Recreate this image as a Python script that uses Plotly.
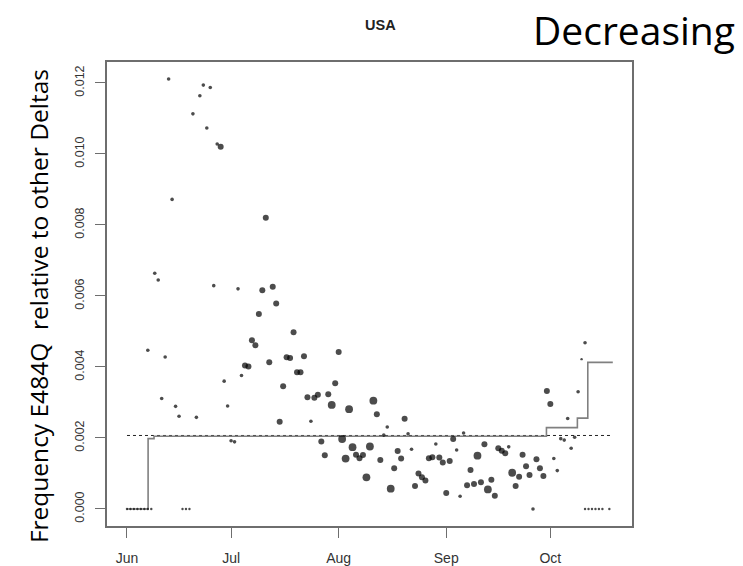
import plotly.graph_objects as go

# ---- data ----
dates = [
    "2021-06-01", "2021-06-02", "2021-06-03", "2021-06-04", "2021-06-05", "2021-06-06", "2021-06-07", "2021-06-08",
    "2021-06-17", "2021-06-18", "2021-06-19",
    "2021-06-07", "2021-06-09", "2021-06-10", "2021-06-11", "2021-06-13", "2021-06-14", "2021-06-12",
    "2021-06-15", "2021-06-16", "2021-06-20", "2021-06-21", "2021-06-22", "2021-06-23", "2021-06-24",
    "2021-06-25", "2021-06-26", "2021-06-27", "2021-06-28", "2021-06-29", "2021-06-30",
    "2021-07-01", "2021-07-02", "2021-07-03", "2021-07-04", "2021-07-05", "2021-07-06", "2021-07-07",
    "2021-07-08", "2021-07-09", "2021-07-10", "2021-07-11", "2021-07-12", "2021-07-13", "2021-07-14",
    "2021-07-15", "2021-07-16", "2021-07-17", "2021-07-18", "2021-07-19", "2021-07-20", "2021-07-21",
    "2021-07-22", "2021-07-23", "2021-07-24", "2021-07-25", "2021-07-26", "2021-07-27", "2021-07-28",
    "2021-07-29", "2021-07-30", "2021-07-31",
    "2021-08-01", "2021-08-02", "2021-08-03", "2021-08-04", "2021-08-05", "2021-08-06", "2021-08-07",
    "2021-08-08", "2021-08-09", "2021-08-10", "2021-08-11", "2021-08-12", "2021-08-13", "2021-08-14",
    "2021-08-15", "2021-08-16", "2021-08-17", "2021-08-18", "2021-08-19", "2021-08-20", "2021-08-21",
    "2021-08-22", "2021-08-23", "2021-08-24", "2021-08-25", "2021-08-26", "2021-08-27", "2021-08-28",
    "2021-08-29", "2021-08-30", "2021-08-31",
    "2021-09-01", "2021-09-02", "2021-09-03", "2021-09-04", "2021-09-05", "2021-09-06", "2021-09-07",
    "2021-09-08", "2021-09-09", "2021-09-10", "2021-09-11", "2021-09-12", "2021-09-13", "2021-09-14",
    "2021-09-15", "2021-09-16", "2021-09-17", "2021-09-18", "2021-09-19", "2021-09-20", "2021-09-21",
    "2021-09-22", "2021-09-23", "2021-09-24", "2021-09-25", "2021-09-26", "2021-09-27", "2021-09-28",
    "2021-09-29", "2021-09-30",
    "2021-10-01", "2021-10-02", "2021-10-03", "2021-10-04", "2021-10-05", "2021-10-06", "2021-10-07",
    "2021-10-08", "2021-10-09", "2021-10-11",
    "2021-10-10", "2021-10-11", "2021-10-12", "2021-10-13", "2021-10-14", "2021-10-15", "2021-10-16", "2021-10-18",
]
freq = [
    0, 0, 0, 0, 0, 0, 0, 0,
    0, 0, 0,
    0.00447, 0.00664, 0.00645, 0.00311, 0.01211, 0.00872, 0.00428,
    0.00289, 0.00261, 0.01113, 0.00258, 0.01164, 0.01194, 0.01073,
    0.01187, 0.00629, 0.01028, 0.01020, 0.00360, 0.00290,
    0.00192, 0.00189, 0.00620, 0.00376, 0.00404, 0.00401, 0.00475,
    0.00461, 0.00549, 0.00616, 0.00820, 0.00413, 0.00626, 0.00579,
    0.00246, 0.00346, 0.00427, 0.00425, 0.00498, 0.00385, 0.00385,
    0.00430, 0.00315, 0.00247, 0.00313, 0.00322, 0.00190, 0.00151,
    0.00323, 0.00293, 0.00354,
    0.00442, 0.00197, 0.00142, 0.00281, 0.00174, 0.00153, 0.00143,
    0.00152, 0.00089, 0.00176, 0.00305, 0.00267, 0.00138, 0.00208,
    0.00231, 0.00057, 0.00115, 0.00163, 0.00142, 0.00254, 0.00212,
    0.00168, 0.00065, 0.00100, 0.00089, 0.00080, 0.00143, 0.00146,
    0.00183, 0.00145, 0.00131,
    0.00045, 0.00135, 0.00197, 0.00166, 0.00036, 0.00214, 0.00067,
    0.00110, 0.00070, 0.00150, 0.00075, 0.00182, 0.00055, 0.00082,
    0.00037, 0.00171, 0.00164, 0.00157, 0.00175, 0.00102, 0.00065,
    0.00091, 0.00153, 0.00120, 0.00096, 0.0, 0.00140, 0.00115,
    0.00093, 0.00332,
    0.00296, 0.00142, 0.00108, 0.00198, 0.00194, 0.00255, 0.00171,
    0.00202, 0.00330, 0.00468,
    0.00422, 0, 0, 0, 0, 0, 0, 0,
]
# relative number of sequences behind each point (1 = fewest, 4 = most)
weight = [
    1, 1, 1, 1, 1, 1, 1, 1,
    1, 1, 1,
    2, 2, 2, 2, 2, 2, 2,
    2, 2, 2, 2, 2, 2, 2,
    2, 2, 2, 3, 2, 2,
    2, 2, 2, 2, 3, 3, 3,
    3, 3, 3, 3, 3, 3, 3,
    3, 3, 3, 3, 3, 3, 3,
    3, 3, 2, 3, 3, 3, 3,
    3, 4, 3,
    3, 4, 4, 4, 4, 3, 3,
    3, 4, 4, 4, 3, 3, 2,
    2, 4, 3, 3, 3, 3, 2,
    2, 3, 3, 3, 3, 3, 3,
    2, 3, 3,
    3, 3, 3, 2, 2, 2, 3,
    3, 3, 4, 3, 3, 4, 3,
    3, 3, 3, 3, 2, 4, 3,
    3, 3, 3, 3, 2, 3, 3,
    3, 3,
    3, 2, 2, 2, 2, 2, 2,
    2, 2, 2,
    1, 1, 1, 1, 1, 1, 1, 1,
]

# step curve (fitted frequency) and overall mean line
step_dates = ["2021-06-01", "2021-06-07 02:00", "2021-06-08 19:00", "2021-09-29 21:00",
              "2021-10-08 19:00", "2021-10-11 19:00", "2021-10-19"]
step_vals = [0.0, 0.00198, 0.00205, 0.00229, 0.00256, 0.00413, 0.00413]
mean_dates = ["2021-06-01", "2021-10-19"]
mean_vals = [0.00207, 0.00207]

y_ticks = [0.000, 0.002, 0.004, 0.006, 0.008, 0.010, 0.012]

size_map = {1: 2.4, 2: 3.6, 3: 6.0, 4: 7.8}
sizes = [size_map[w] for w in weight]

fig = go.Figure()
fig.add_trace(go.Scatter(x=mean_dates, y=mean_vals, mode="lines",
                         line=dict(color="#222222", width=1, dash="dot"),
                         hoverinfo="skip", showlegend=False))
fig.add_trace(go.Scatter(x=step_dates, y=step_vals, mode="lines",
                         line=dict(color="#808080", width=1.6, shape="hv"),
                         hoverinfo="skip", showlegend=False))
fig.add_trace(go.Scatter(x=dates, y=freq, mode="markers",
                         marker=dict(color="black", size=sizes, line=dict(width=0)),
                         showlegend=False))

axis_col = "#6e6e6e"
fig.update_layout(
    width=743, height=566,
    margin=dict(l=107, r=111, t=62, b=40, autoexpand=False),
    paper_bgcolor="white", plot_bgcolor="white",
    xaxis=dict(
        range=["2021-05-26 05:45", "2021-10-24 12:45"],
        type="date", tick0="2021-06-01", dtick="M1", tickformat="%b",
        automargin=False,
        showgrid=False, zeroline=False,
        showline=True, mirror=True, linecolor=axis_col, linewidth=1.6,
        ticks="outside", ticklen=10, tickwidth=1.2, tickcolor=axis_col,
        ticklabelstandoff=8,
        tickfont=dict(family="Liberation Sans, Arial", size=14, color="#333333"),
    ),
    yaxis=dict(
        range=[-0.00048, 0.01259],
        tickvals=y_ticks, tickformat=".3f", tickangle=-90,
        automargin=False,
        showgrid=False, zeroline=False,
        showline=True, mirror=True, linecolor=axis_col, linewidth=1.6,
        ticks="outside", ticklen=10, tickwidth=1.2, tickcolor=axis_col,
        ticklabelstandoff=6,
        tickfont=dict(family="Liberation Sans Narrow, Liberation Sans, Arial", size=12.5, color="#333333"),
    ),
    annotations=[
        dict(text="USA", xref="paper", yref="paper", x=0.52, y=1.0797,
             xanchor="center", yanchor="middle", showarrow=False,
             font=dict(family="Liberation Sans, Arial", size=14.5, color="#222222", weight="bold")),
        dict(text="Decreasing", xref="paper", yref="paper", x=1.0038, y=1.069,
             xanchor="center", yanchor="middle", showarrow=False,
             font=dict(family="Open Sans, Lato", size=39, color="black")),
        dict(text="Frequency E484Q  relative to other Deltas", xref="paper", yref="paper",
             x=-0.1314, y=0.474, xanchor="center", yanchor="middle", textangle=-90,
             showarrow=False, font=dict(family="Open Sans, Lato", size=24.5, color="black")),
    ],
)

fig.write_html("out.html")
